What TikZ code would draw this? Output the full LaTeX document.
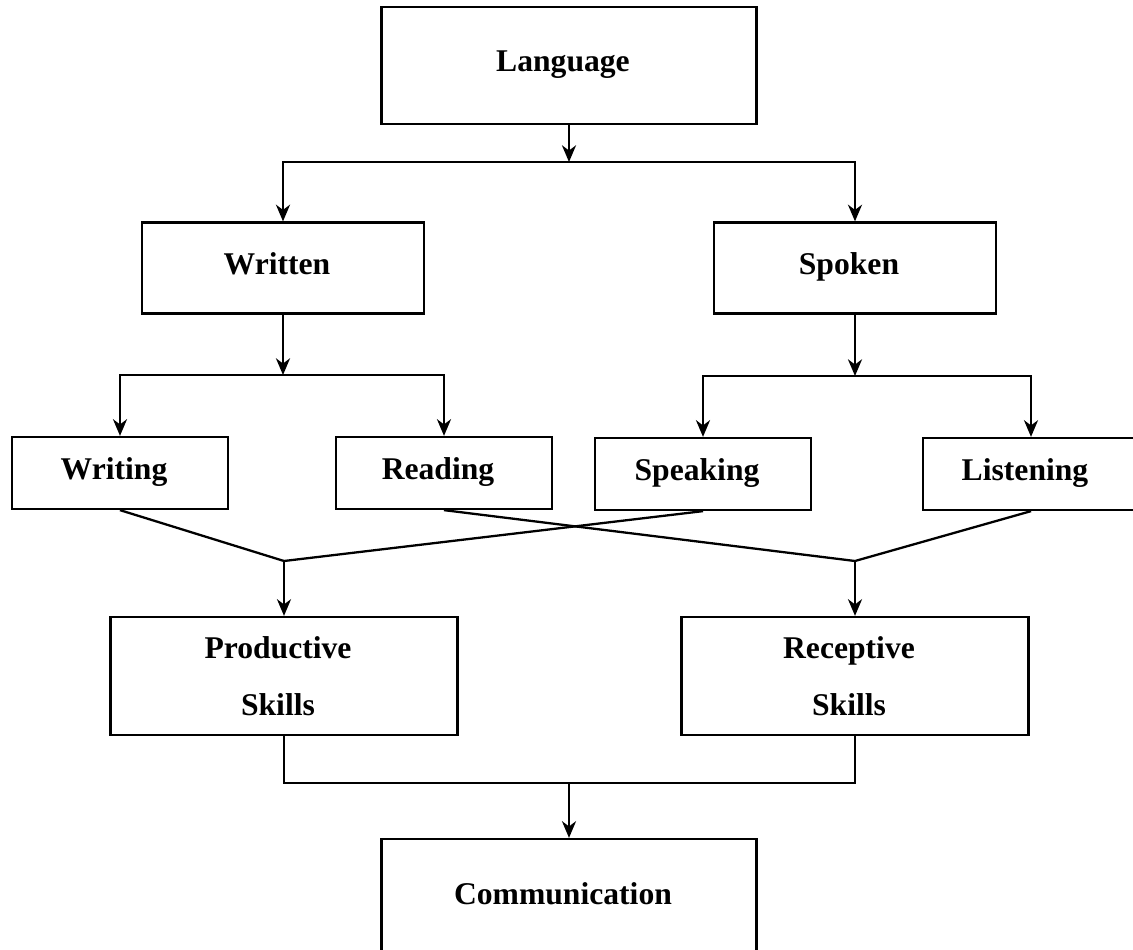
\documentclass[tikz,border=0pt]{standalone}
\usepackage{fontspec}
\setmainfont{Liberation Serif}
\usetikzlibrary{arrows.meta}

\begin{document}
\begin{tikzpicture}[x=0.02cm, y=-0.02cm, line width=1.3pt,
    >={Stealth[length=9.5pt,width=8pt,inset=3pt]},
    box/.style={draw, inner sep=0pt,
      font=\fontsize{18}{32.3}\selectfont\bfseries,
      execute at begin node={\hspace*{-0.24cm}}},
    oneline/.style={box, text height=11.5pt, text depth=4.5pt}]
  \useasboundingbox (0,0) rectangle (1133,950);
  \clip (0,0) rectangle (1133,950);
  % boxes
  \node[oneline, minimum width=7.5cm, minimum height=2.34cm] (lang) at (569,65.5) {Language};
  \node[oneline, minimum width=5.64cm, minimum height=1.82cm] (written) at (283,268) {Written};
  \node[oneline, minimum width=5.64cm, minimum height=1.82cm] (spoken) at (855,268) {Spoken};
  \node[oneline, minimum width=4.32cm, minimum height=1.44cm] (writing) at (120,473) {Writing};
  \node[oneline, minimum width=4.32cm, minimum height=1.44cm] (reading) at (444,473) {Reading};
  \node[oneline, minimum width=4.32cm, minimum height=1.44cm] (speaking) at (703,474) {Speaking};
  \node[oneline, minimum width=4.32cm, minimum height=1.44cm] (listening) at (1031,474) {Listening};
  \node[box, align=center, minimum width=6.94cm, minimum height=2.36cm] (productive) at (284,676) {Productive\\Skills};
  \node[box, align=center, minimum width=6.94cm, minimum height=2.36cm] (receptive) at (855,676) {Receptive\\Skills};
  \node[oneline, minimum width=7.5cm, minimum height=2.36cm] (comm) at (569,898) {Communication};
  % branch points
  \coordinate (split1) at (569,162);
  \coordinate (split2) at (283,375);
  \coordinate (split3) at (855,376);
  \coordinate (join1) at (284,561);
  \coordinate (join2) at (855,561);
  \coordinate (merge) at (569,783);
  % connectors
  \draw[->] (lang) -- (split1);
  \draw[->] (split1) -| (written);
  \draw[->] (split1) -| (spoken);
  \draw[->] (written) -- (split2);
  \draw[->] (split2) -| (writing);
  \draw[->] (split2) -| (reading);
  \draw[->] (spoken) -- (split3);
  \draw[->] (split3) -| (speaking);
  \draw[->] (split3) -| (listening);
  \draw (writing.south) -- (join1);
  \draw (speaking.south) -- (join1);
  \draw (reading.south) -- (join2);
  \draw (listening.south) -- (join2);
  \draw[->] (join1) -- (productive);
  \draw[->] (join2) -- (receptive);
  \draw (productive) |- (merge);
  \draw (receptive) |- (merge);
  \draw[->] (merge) -- (comm);
\end{tikzpicture}
\end{document}
